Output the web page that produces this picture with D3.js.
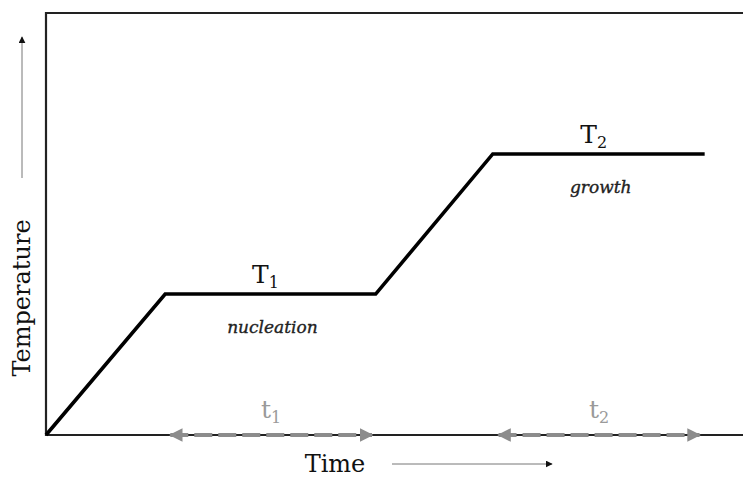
<!doctype html>
<html>
<head>
<meta charset="utf-8">
<style>
  body { margin: 0; background: #fff; }
  svg { display: block; }
  .lbl { font-family: "DejaVu Serif", "Liberation Serif", serif; fill: #111; }
  .it { font-family: "DejaVu Serif", "Liberation Serif", serif; font-style: italic; fill: #222; stroke: #222; stroke-width: 0.35px; }
</style>
<script src="https://d3js.org/d3.v7.min.js"></script>
</head>
<body>
<svg width="743" height="477" id="chart"></svg>
<script>
// heating profile: time (arbitrary units) vs temperature (arbitrary units)
var times = [0, 17.1, 47.3, 64.1, 94.5];
var temps = [0, 33.4, 33.4, 66.6, 66.6];
var plateauNames = ["T", "T"];
var plateauSubs = ["1", "2"];
var stageNames = ["nucleation", "growth"];
var spanNames = ["t", "t"];
var spanStart = [17.4, 64.5];
var spanEnd = [47.2, 94.2];

var svg = d3.select("#chart");
var mLeft = 46, mTop = 13, mRight = 743, mBottom = 435;

var x = d3.scaleLinear().domain([0, 100]).range([mLeft, mRight]);
var y = d3.scaleLinear().domain([0, 100]).range([mBottom, mTop]);

var defs = svg.append("defs");
defs.append("marker").attr("id", "ga").attr("viewBox", "0 0 10 10")
    .attr("refX", 9).attr("refY", 5).attr("markerWidth", 3.4).attr("markerHeight", 3.4)
    .attr("markerUnits", "strokeWidth").attr("orient", "auto-start-reverse")
    .append("path").attr("d", "M0,0L10,5L0,10z").attr("fill", "#8c8c8c");
defs.append("marker").attr("id", "ka").attr("viewBox", "0 0 10 10")
    .attr("refX", 9).attr("refY", 5).attr("markerWidth", 7).attr("markerHeight", 7)
    .attr("markerUnits", "userSpaceOnUse").attr("orient", "auto")
    .append("path").attr("d", "M0,0L10,5L0,10z").attr("fill", "#111");

// frame
svg.append("path")
   .attr("d", "M" + mRight + "," + mTop + "H" + mLeft + "V" + mBottom + "H" + mRight)
   .attr("fill", "none").attr("stroke", "#222").attr("stroke-width", 2.2);

// time spans
spanStart.forEach(function(s, i) {
  svg.append("line")
     .attr("x1", x(s) + 3).attr("x2", x(spanEnd[i]) - 3)
     .attr("y1", y(0)).attr("y2", y(0))
     .attr("stroke", "#8c8c8c").attr("stroke-width", 4)
     .attr("stroke-dasharray", "18,6")
     .attr("marker-start", "url(#ga)").attr("marker-end", "url(#ga)");
  var t = svg.append("text").attr("class", "lbl")
     .attr("x", (x(s) + x(spanEnd[i])) / 2).attr("y", 418)
     .attr("text-anchor", "middle").attr("font-size", 25).style("fill", "#9a9a9a")
     .text(spanNames[i]);
  t.append("tspan").attr("font-size", 16).attr("dy", 5).text(i + 1);
});

// temperature profile
svg.append("path")
   .datum(times.map(function(t, i) { return [t, temps[i]]; }))
   .attr("d", d3.line().x(function(d) { return x(d[0]); }).y(function(d) { return y(d[1]); }))
   .attr("fill", "none").attr("stroke", "#000").attr("stroke-width", 3.6)
   .attr("stroke-linejoin", "miter");

// plateau labels
[1, 3].forEach(function(k, i) {
  var cx = (x(times[k]) + x(times[k + 1])) / 2;
  var t = svg.append("text").attr("class", "lbl")
     .attr("x", cx - 5).attr("y", y(temps[k]) - 11)
     .attr("font-size", 25).attr("text-anchor", "middle").text(plateauNames[i]);
  t.append("tspan").attr("font-size", 16).attr("dy", 5).text(plateauSubs[i]);
  svg.append("text").attr("class", "it")
     .attr("x", cx + 2).attr("y", y(temps[k]) + 39)
     .attr("font-size", 17).attr("text-anchor", "middle").text(stageNames[i]);
});

// axis titles
svg.append("text").attr("class", "lbl").attr("x", 335).attr("y", 472)
   .attr("font-size", 24).attr("text-anchor", "middle").text("Time");
svg.append("line").attr("x1", 392).attr("x2", 552).attr("y1", 464).attr("y2", 464)
   .attr("stroke", "#777").attr("stroke-width", 1).attr("marker-end", "url(#ka)");

svg.append("text").attr("class", "lbl")
   .attr("transform", "translate(30,298) rotate(-90)")
   .attr("font-size", 24).attr("text-anchor", "middle").text("Temperature");
svg.append("line").attr("x1", 22).attr("x2", 22).attr("y1", 178).attr("y2", 37)
   .attr("stroke", "#777").attr("stroke-width", 1).attr("marker-end", "url(#ka)");
</script>
</body>
</html>
